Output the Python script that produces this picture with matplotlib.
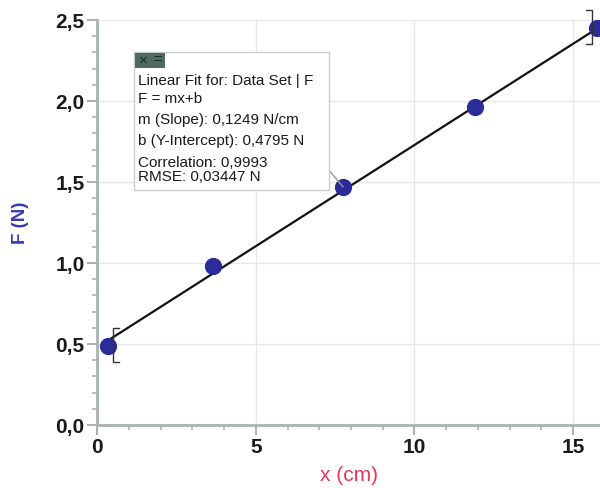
import matplotlib.pyplot as plt
from matplotlib.ticker import MultipleLocator, FuncFormatter
from matplotlib.patches import Rectangle

plt.rcParams['font.family'] = ['Liberation Sans', 'DejaVu Sans']

x_cm = [0.35, 3.65, 7.75, 11.9, 15.76]
force_n = [0.49, 0.98, 1.47, 1.96, 2.45]
slope = 0.1249
intercept = 0.4795
fit_lines = ["Linear Fit for: Data Set | F", "F = mx+b", "m (Slope): 0,1249 N/cm",
             "b (Y-Intercept): 0,4795 N", "Correlation: 0,9993", "RMSE: 0,03447 N"]

fig = plt.figure(figsize=(6, 4.88), dpi=100)
ax = fig.add_axes([0.162, 0.129, 0.838, 0.83])
ax.set_xlim(0, 15.85)
ax.set_ylim(0, 2.5)

ax.grid(True, color='#e3e8e8', lw=1)
ax.set_axisbelow(True)
for s in ['top', 'right']:
    ax.spines[s].set_visible(False)
for s in ['left', 'bottom']:
    ax.spines[s].set_color('#a9b3b3')
    ax.spines[s].set_linewidth(2)

ax.xaxis.set_major_locator(MultipleLocator(5))
ax.xaxis.set_minor_locator(MultipleLocator(1))
ax.yaxis.set_major_locator(MultipleLocator(0.5))
ax.yaxis.set_minor_locator(MultipleLocator(0.1))
ax.xaxis.set_major_formatter(FuncFormatter(lambda v, p: '%d' % v))
ax.yaxis.set_major_formatter(FuncFormatter(lambda v, p: ('%.1f' % v).replace('.', ',')))
ax.tick_params(which='major', direction='out', length=7, color='#a9b3b3', width=1.5,
               labelsize=15, labelcolor='#1a1a1a', pad=2)
ax.tick_params(which='minor', direction='out', length=3.5, color='#a9b3b3', width=1.2)
for lab in ax.get_xticklabels() + ax.get_yticklabels():
    lab.set_fontweight('bold')

ax.set_xlabel('x (cm)', color='#e8365a', fontsize=15, labelpad=7)
ax.set_ylabel('F (N)', color='#3a3ab0', fontsize=13.5, fontweight='bold', labelpad=19)

# fit line between the first and last points
x0, x1 = x_cm[0], x_cm[-1]
ax.plot([x0, x1], [slope * x0 + intercept, slope * x1 + intercept], color='#111111', lw=1.6, zorder=3)
ax.scatter(x_cm, force_n, s=130, color='#2b2b9a', zorder=4, clip_on=False)

# region brackets
bx0, bx1 = x0 + 0.15, x1 - 0.15
ax.plot([bx0 + 0.2, bx0, bx0, bx0 + 0.2], [0.60, 0.60, 0.39, 0.39], color='#333333', lw=1, zorder=5)
ax.plot([bx1 - 0.2, bx1, bx1, bx1 - 0.2], [2.56, 2.56, 2.35, 2.35], color='#333333', lw=1,
        zorder=5, clip_on=False)

# annotation box
bx, by, bw, bh = 1.17, 1.45, 6.15, 0.85
ax.add_patch(Rectangle((bx, by), bw, bh, facecolor='white', edgecolor='#c8cccc', lw=1, zorder=6))
ax.add_patch(Rectangle((bx + 0.03, by + bh - 0.095), 0.95, 0.09, facecolor='#4f6a60',
                       edgecolor='none', zorder=7))
ax.text(bx + 0.28, by + bh - 0.05, '×', ha='center', va='center', fontsize=11, color='#1f2a26', zorder=8)
ax.text(bx + 0.75, by + bh - 0.05, '=', ha='center', va='center', fontsize=11, color='#1f2a26', zorder=8)
ax.plot([bx + bw, 7.75], [by + 0.12, 1.47], color='#999999', lw=1, zorder=5)
ys = [2.125, 2.015, 1.885, 1.755, 1.62, 1.53]
for t, yy in zip(fit_lines, ys):
    ax.text(bx + 0.13, yy, t, fontsize=11, color='#1a1a1a', va='center', zorder=8)

plt.savefig('out.png', dpi=100)
